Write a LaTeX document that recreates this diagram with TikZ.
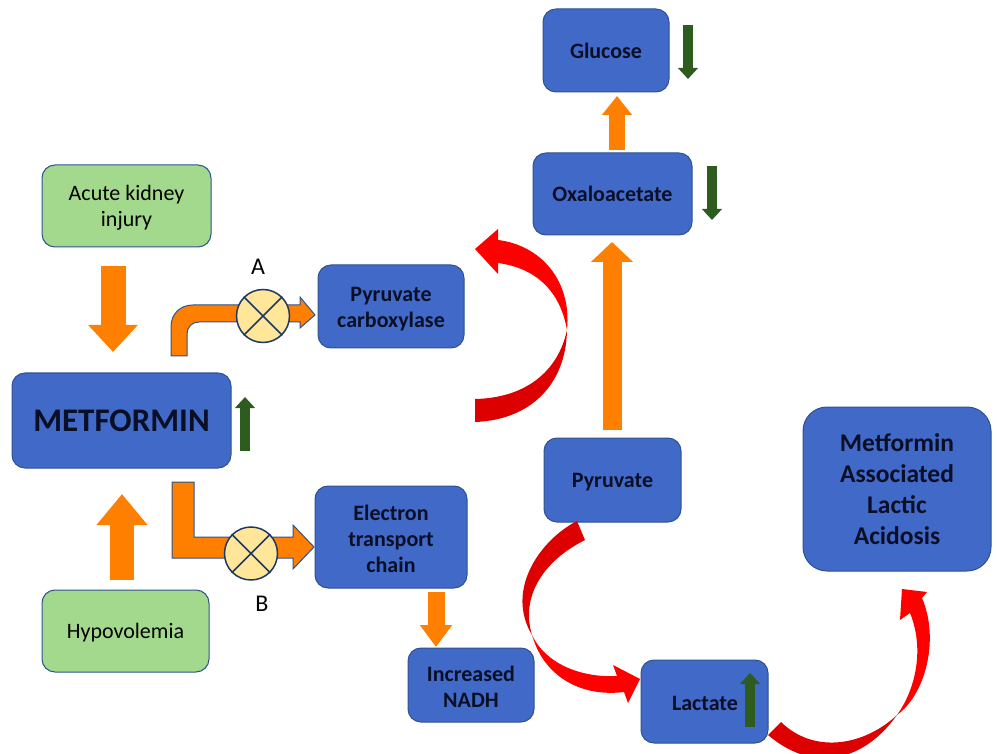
\documentclass[tikz,border=0pt]{standalone}
\usepackage{fontspec}
\setmainfont{Carlito}
\usetikzlibrary{arrows.meta,calc}
\definecolor{boxblue}{HTML}{4169C8}
\definecolor{boxedge}{HTML}{2F528F}
\definecolor{boxgreen}{HTML}{A3D98C}
\definecolor{arrorange}{HTML}{FF7F00}
\definecolor{arrgreen}{HTML}{2E5C1E}
\definecolor{darkred}{HTML}{DD0000}
\definecolor{inkdark}{HTML}{0A0F26}
\definecolor{jointfill}{HTML}{FFE699}
\definecolor{jointedge}{HTML}{1F3864}
\newcommand{\txtshift}{-2.5pt}
\newcommand{\txtdrop}[1]{\raisebox{\txtshift}[\height][\depth]{\begin{tabular}{@{}c@{}}#1\end{tabular}}}
\newcommand{\bx}[8][bluebox]{% style, name, x1,y1,x2,y2, size, text
  \node[#1,minimum width=\dimexpr#5pt-#3pt\relax,minimum height=\dimexpr#6pt-#4pt\relax,
        font=\fontsize{#7}{\numexpr#7*12/10\relax}\selectfont] (#2) at ({(#3+#5)/2},{(#4+#6)/2}) {\txtdrop{#8}};}
\tikzset{
  x=1pt,y=-1pt,
  bluebox/.style={draw=boxedge,line width=1pt,fill=boxblue,rounded corners=13pt,align=center,text=inkdark,inner sep=0pt,
     execute at begin node=\bfseries},
  greenbox/.style={draw=boxedge,line width=1pt,fill=boxgreen,rounded corners=13pt,align=center,text=black,inner sep=0pt},
  elbow/.style={draw=boxedge,line width=1pt,fill=arrorange},
  joint/.style={circle,draw=jointedge,line width=1.5pt,fill=jointfill,minimum size=#1,inner sep=0pt},
  letter/.style={font=\fontsize{24}{26}\selectfont,text=black},
}
\begin{document}
\begin{tikzpicture}
\useasboundingbox (0,0) rectangle (997,754);
\clip (0,0) rectangle (997,754);
% boxes
\bx[greenbox]{aki}{42}{165}{211}{247}{22}{Acute kidney\\injury}
\bx[greenbox]{hypo}{42}{590}{209}{672}{22}{Hypovolemia}
\bx{met}{12}{373}{231}{468}{33}{METFORMIN}
\bx{pc}{318}{265}{464}{348}{22}{Pyruvate\\carboxylase}
\renewcommand{\txtshift}{-4.5pt}
\bx{etc}{315}{486}{467}{588}{22}{Electron\\transport\\chain}
\bx{nadh}{408}{648}{534}{722}{22}{Increased\\NADH}
\renewcommand{\txtshift}{-2.5pt}
\node[bluebox,minimum width=126pt,minimum height=83pt,font=\fontsize{22}{26}\selectfont] (glu) at (606,50.5) {Glucose};
\bx{oaa}{533}{153}{692}{235}{22}{Oxaloacetate}
\bx{pyr}{544}{438}{681}{522}{22}{Pyruvate}
\node[bluebox,minimum width=127pt,minimum height=83pt,font=\fontsize{22}{26}\selectfont,text width=127pt,align=left] (lac) at (704.5,701.5) {\hspace*{31pt}\raisebox{-2pt}[\height][\depth]{Lactate}};
\node[bluebox,minimum width=188pt,minimum height=164pt,rounded corners=24pt,font=\fontsize{25.5}{31}\selectfont] (mala) at (897,489) {Metformin\\Associated\\Lactic\\Acidosis};
% straight block arrows, each with named ends
\coordinate (akiA) at (113,266); \coordinate (akiB) at (113,352);
\coordinate (hypA) at (122,580); \coordinate (hypB) at (122,494);
\coordinate (oaaA) at (617,150); \coordinate (oaaB) at (617,96);
\coordinate (pyrA) at (612,430); \coordinate (pyrB) at (612,242);
\coordinate (etcA) at (436,592); \coordinate (etcB) at (436,647);
\draw[line width=25pt,arrorange,-{Triangle[length=27pt,width=48pt]}] (akiA) -- (akiB);
\draw[line width=24pt,arrorange,-{Triangle[length=31pt,width=49pt]}] (hypA) -- (hypB);
\draw[line width=16pt,arrorange,-{Triangle[length=19pt,width=29pt]}] (oaaA) -- (oaaB);
\draw[line width=19pt,arrorange,-{Triangle[length=20pt,width=41pt]}] (pyrA) -- (pyrB);
\draw[line width=17pt,arrorange,-{Triangle[length=22pt,width=31pt]}] (etcA) -- (etcB);
% green indicator arrows
\coordinate (g1A) at (688,25);  \coordinate (g1B) at (688,79);
\coordinate (g2A) at (712,166); \coordinate (g2B) at (712,220);
\coordinate (g3A) at (245,451); \coordinate (g3B) at (245,397);
\coordinate (g4A) at (750,727); \coordinate (g4B) at (750,673);
\foreach \a/\b in {g1A/g1B,g2A/g2B,g3A/g3B,g4A/g4B}
  \draw[line width=10pt,arrgreen,-{Triangle[length=11pt,width=19.5pt]}] (\a) -- (\b);
% elbow A
\path[elbow] (171,356) -- (171,327) .. controls (171,314) and (180,305) .. (193,305) -- (300,305) -- (300,297) -- (315,315) -- (300,328) -- (300,322) -- (199,322) .. controls (192,322) and (187,327) .. (187,334) -- (187,356) -- cycle;
\node[joint=53pt] (xa) at (263,316) {};
\draw[jointedge,line width=1.5pt] (xa.45) -- (xa.225) (xa.135) -- (xa.315);
\node[letter] (la) at (258,267) {A};
% elbow B
\path[elbow] (172,482) -- (194,482) -- (194,537) -- (293,537) -- (293,525) -- (314,547) -- (293,569) -- (293,558) -- (172,558) -- cycle;
\node[joint=53pt] (xb) at (251,553.5) {};
\draw[jointedge,line width=1.5pt] (xb.45) -- (xb.225) (xb.135) -- (xb.315);
\node[letter] (lb) at (262,604) {B};
% red curved arrows
\fill[darkred] (475,399) .. controls (525,398) and (558,372) .. (567,330) .. controls (566,385) and (530,420) .. (475,422) -- cycle;
\fill[red] (567,330) .. controls (560,290) and (535,268) .. (498,263) -- (498,274) -- (475,249) -- (498,229) -- (498,240) .. controls (540,245) and (572,280) .. (567,330) -- cycle;
\fill[darkred] (577,521) .. controls (540,540) and (505,590) .. (532,635) .. controls (520,595) and (545,560) .. (585,540) -- cycle;
\fill[red] (532,635) .. controls (545,663) and (580,678) .. (617,676) -- (613,665) -- (640,679) -- (628,703) -- (624,692) .. controls (585,697) and (545,680) .. (532,635) -- cycle;
\fill[darkred] (768,735) .. controls (815,775) and (865,760) .. (897,715) .. controls (865,745) and (815,755) .. (781,722) -- cycle;
\fill[red] (897,715) .. controls (925,695) and (940,640) .. (922,598) -- (927,592) -- (902,589) -- (900,620) -- (910,613) .. controls (925,650) and (915,690) .. (897,715) -- cycle;
\end{tikzpicture}
\end{document}
